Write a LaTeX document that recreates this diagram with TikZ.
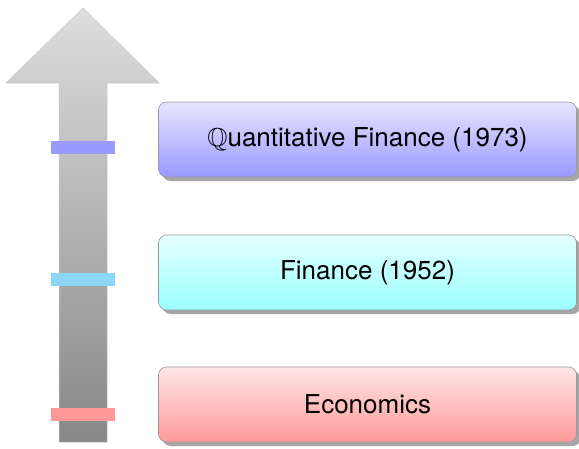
\documentclass[tikz,border=0pt]{standalone}
\usepackage{amssymb}
\usepackage{fontspec}
\setmainfont{TeX Gyre Heros}
\usetikzlibrary{shadows}
\definecolor{barblue}{RGB}{154,154,255}
\definecolor{barcyan}{RGB}{140,214,246}
\definecolor{barred}{RGB}{255,153,153}
\tikzset{
  stagebox/.style={draw=gray!80, line width=0.6pt, rounded corners=8pt,
    minimum width=418pt, minimum height=75pt, inner sep=0pt,
    font=\fontsize{26}{31}\selectfont,
    drop shadow={shadow xshift=4pt, shadow yshift=-4pt, fill=black, opacity=0.35}},
  markbar/.style={minimum width=64pt, minimum height=13pt, inner sep=0pt}
}
\begin{document}
\begin{tikzpicture}[x=1pt,y=-1pt]
\useasboundingbox (0,0) rectangle (579,448);
% big arrow
\path[draw=gray!45, line width=0.5pt, top color=black!13, bottom color=black!47]
  (59,442) -- (59,83) -- (6,83) -- (83,8) -- (159,83) -- (107,83) -- (107,442) -- cycle;
% marker bars
\node[markbar, fill=barblue] (m3) at (83,147) {};
\node[markbar, fill=barcyan] (m2) at (83,279.5) {};
\node[markbar, fill=barred] (m1) at (83,414) {};
% boxes
\node[stagebox, top color=blue!10, bottom color=blue!40] (q) at (367.5,139.5) {$\mathbb{Q}$uantitative Finance (1973)};
\node[stagebox, top color=cyan!10, bottom color=cyan!40] (f) at (367.5,272.5) {Finance (1952)};
\node[stagebox, top color=red!10, bottom color=red!40] (e) at (367.5,404.5) {Economics};
\end{tikzpicture}
\end{document}
